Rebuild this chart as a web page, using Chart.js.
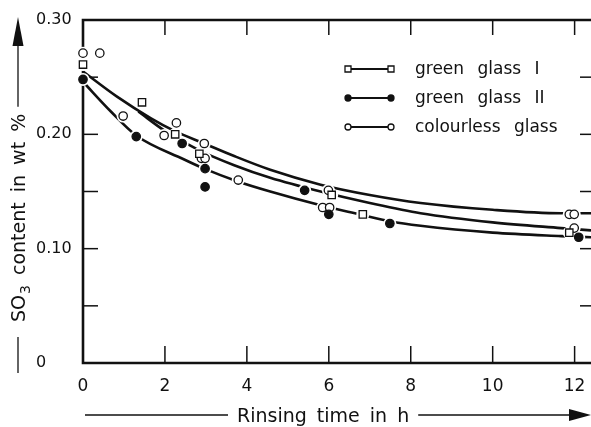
<!DOCTYPE html>
<html>
<head>
<meta charset="utf-8">
<script src="https://cdn.jsdelivr.net/npm/chart.js@4.4.1/dist/chart.umd.min.js"></script>
<style>
  html, body { margin: 0; padding: 0; background: #fff; }
  #wrap { width: 591px; height: 427px; position: relative; }
</style>
</head>
<body>
<div id="wrap"><canvas id="chart"></canvas></div>
<script>
const glassIX = [0, 1.44, 2.25, 2.84, 6.07, 6.83, 11.87];
const glassIY = [0.261, 0.228, 0.200, 0.183, 0.147, 0.130, 0.114];
const glassIIX = [0, 1.30, 2.42, 2.98, 2.98, 5.41, 6.00, 7.49, 12.10];
const glassIIY = [0.248, 0.198, 0.192, 0.170, 0.154, 0.151, 0.130, 0.122, 0.110];
const colourlessX = [0, 0.41, 0.98, 1.98, 2.28, 2.96, 2.89, 2.98, 3.79, 5.99, 5.85, 6.02, 11.87, 11.99, 11.99];
const colourlessY = [0.271, 0.271, 0.216, 0.199, 0.210, 0.192, 0.179, 0.179, 0.160, 0.151, 0.136, 0.136, 0.130, 0.130, 0.118];

// hand drawn fit curves
const curveIX = [1.35, 2.0, 2.84, 3.69, 4.57, 5.8, 7.0, 8.24, 10.0, 11.67, 12.4];
const curveIY = [0.220, 0.203, 0.186, 0.173, 0.162, 0.150, 0.140, 0.131, 0.123, 0.118, 0.116];
const curveIIX = [0, 0.68, 1.3, 2.47, 2.96, 3.76, 4.57, 5.8, 6.76, 7.49, 8.24, 10.0, 11.67, 12.4];
const curveIIY = [0.246, 0.220, 0.199, 0.178, 0.170, 0.159, 0.150, 0.138, 0.130, 0.124, 0.120, 0.114, 0.111, 0.110];
const curveCX = [0, 0.83, 1.66, 2.23, 2.96, 3.69, 4.57, 5.8, 7.0, 8.24, 10.0, 11.67, 12.4];
const curveCY = [0.255, 0.233, 0.214, 0.203, 0.192, 0.181, 0.169, 0.156, 0.147, 0.140, 0.134, 0.131, 0.131];

const seriesNames = ['green glass I', 'green glass II', 'colourless glass'];
const yTickLabels = ['0', '', '0.10', '', '0.20', '', '0.30'];
const xTitle = 'Rinsing time in h';
const yTitle = ['SO', '3', ' content in wt %'];

const ink = '#111';
const font = "'DejaVu Sans', sans-serif";

const pts = (xs, ys) => xs.map((x, i) => ({ x: x, y: ys[i] }));

const markerStyles = [
    { style: 'rect', fill: '#fff' },
    { style: 'circle', fill: ink },
    { style: 'circle', fill: '#fff' }
];

function drawMarker(ctx, kind, x, y, r) {
    ctx.beginPath();
    if (kind.style === 'rect') {
        ctx.rect(x - r, y - r, 2 * r, 2 * r);
    } else {
        ctx.arc(x, y, r, 0, Math.PI * 2);
    }
    ctx.fillStyle = kind.fill;
    ctx.fill();
    ctx.lineWidth = 1.3;
    ctx.strokeStyle = ink;
    ctx.stroke();
}

function line(ctx, x1, y1, x2, y2) {
    ctx.beginPath();
    ctx.moveTo(x1, y1);
    ctx.lineTo(x2, y2);
    ctx.stroke();
}

// frame with inward ticks, drawn under the data so marker halos cut it
const framePlugin = {
    id: 'frame',
    beforeDatasetsDraw(chart) {
        const { ctx, chartArea: a, scales: { x, y } } = chart;
        ctx.save();
        ctx.strokeStyle = ink;
        ctx.lineWidth = 2.6;
        ctx.beginPath();
        ctx.moveTo(a.right, a.top);
        ctx.lineTo(a.left, a.top);
        ctx.lineTo(a.left, a.bottom);
        ctx.lineTo(a.right, a.bottom);
        ctx.stroke();
        ctx.lineWidth = 1.5;
        x.ticks.forEach(t => {
            if (t.value === 0) return;
            const px = x.getPixelForValue(t.value);
            line(ctx, px, a.bottom, px, a.bottom - 17);
            line(ctx, px, a.top, px, a.top + 15);
        });
        y.ticks.forEach((t, i) => {
            if (i === 0 || i === y.ticks.length - 1) return;
            const py = y.getPixelForValue(t.value);
            line(ctx, a.left, py, a.left + 15, py);
            line(ctx, a.right, py, a.right - 11, py);
        });
        ctx.restore();
    }
};

// axis titles with arrows, and the legend
const decoPlugin = {
    id: 'deco',
    afterDraw(chart) {
        const { ctx } = chart;
        ctx.save();
        ctx.fillStyle = ink;
        ctx.strokeStyle = ink;
        ctx.lineWidth = 1.3;
        ctx.font = '19px ' + font;
        ctx.textBaseline = 'alphabetic';
        if ('wordSpacing' in ctx) ctx.wordSpacing = '4px';

        // x title
        ctx.textAlign = 'left';
        ctx.fillText(xTitle, 237, 422);
        const xw = ctx.measureText(xTitle).width;
        line(ctx, 85, 415, 228, 415);
        line(ctx, 237 + xw + 9, 415, 572, 415);
        ctx.beginPath();
        ctx.moveTo(591, 415);
        ctx.lineTo(569, 409);
        ctx.lineTo(569, 421);
        ctx.closePath();
        ctx.fill();

        // y title, rotated
        ctx.save();
        ctx.translate(25, 322);
        ctx.rotate(-Math.PI / 2);
        ctx.fillText(yTitle[0], 0, 0);
        let w = ctx.measureText(yTitle[0]).width;
        ctx.font = '14px ' + font;
        ctx.fillText(yTitle[1], w + 1, 5);
        w += ctx.measureText(yTitle[1]).width + 1;
        ctx.font = '19px ' + font;
        ctx.fillText(yTitle[2], w, 0);
        w += ctx.measureText(yTitle[2]).width;
        ctx.restore();
        line(ctx, 18, 373, 18, 337);
        line(ctx, 18, 322 - w - 7, 18, 45);
        ctx.beginPath();
        ctx.moveTo(18, 17);
        ctx.lineTo(12.5, 46);
        ctx.lineTo(23.5, 46);
        ctx.closePath();
        ctx.fill();

        // legend
        ctx.font = '17px ' + font;
        if ('wordSpacing' in ctx) ctx.wordSpacing = '8px';
        seriesNames.forEach((name, i) => {
            const ry = 69 + i * 29;
            ctx.lineWidth = 2.2;
            line(ctx, 348, ry, 391, ry);
            drawMarker(ctx, markerStyles[i], 348, ry, 3);
            drawMarker(ctx, markerStyles[i], 391, ry, 3);
            ctx.fillStyle = ink;
            ctx.fillText(name, 415, ry + 5);
        });
        ctx.restore();
    }
};

const markerSets = [pts(glassIX, glassIY), pts(glassIIX, glassIIY), pts(colourlessX, colourlessY)];
const curveSets = [pts(curveIX, curveIY), pts(curveIIX, curveIIY), pts(curveCX, curveCY)];

const datasets = [];
curveSets.forEach((d, i) => {
    datasets.push({
        label: seriesNames[i] + ' fit',
        data: d,
        showLine: true,
        cubicInterpolationMode: 'monotone',
        borderColor: ink,
        borderWidth: 2.6,
        pointRadius: 0,
        fill: false,
        clip: false,
        order: 3
    });
});
// white halos leave small gaps in the curves round each marker
markerSets.forEach((d, i) => {
    datasets.push({
        label: seriesNames[i] + ' halo',
        data: d,
        pointStyle: 'circle',
        pointRadius: 6.5,
        pointBackgroundColor: '#fff',
        pointBorderWidth: 0,
        borderWidth: 0,
        clip: false,
        order: 2
    });
});
markerSets.forEach((d, i) => {
    const isRect = markerStyles[i].style === 'rect';
    datasets.push({
        label: seriesNames[i],
        data: d,
        pointStyle: markerStyles[i].style,
        pointRadius: isRect ? 5.2 : 4.2,
        pointBackgroundColor: markerStyles[i].fill,
        pointBorderColor: ink,
        pointBorderWidth: 1.3,
        clip: false,
        order: 1
    });
});

new Chart(document.getElementById('chart'), {
    type: 'scatter',
    data: { datasets: datasets },
    options: {
        responsive: true,
        maintainAspectRatio: false,
        animation: false,
        events: [],
        layout: { autoPadding: false, padding: { left: 36, top: 20, right: 0, bottom: 0 } },
        plugins: {
            legend: { display: false },
            tooltip: { enabled: false }
        },
        scales: {
            x: {
                type: 'linear',
                min: 0,
                max: 12.4,
                grid: { display: false, drawTicks: false },
                border: { display: false },
                ticks: {
                    stepSize: 2,
                    includeBounds: false,
                    color: ink,
                    padding: 13,
                    maxRotation: 0,
                    font: { family: font, size: 17 }
                },
                afterFit: s => {
                    s.height = 64;
                    s.paddingLeft = 0;
                    s.paddingRight = 0;
                }
            },
            y: {
                type: 'linear',
                min: 0,
                max: 0.30,
                grid: { display: false, drawTicks: false },
                border: { display: false },
                ticks: {
                    stepSize: 0.05,
                    color: ink,
                    crossAlign: 'far',
                    font: { family: font, size: 16 },
                    callback: (v, i) => yTickLabels[i]
                },
                afterFit: s => {
                    s.width = 47;
                    s.paddingTop = 0;
                    s.paddingBottom = 0;
                }
            }
        }
    },
    plugins: [framePlugin, decoPlugin]
});
</script>
</body>
</html>
